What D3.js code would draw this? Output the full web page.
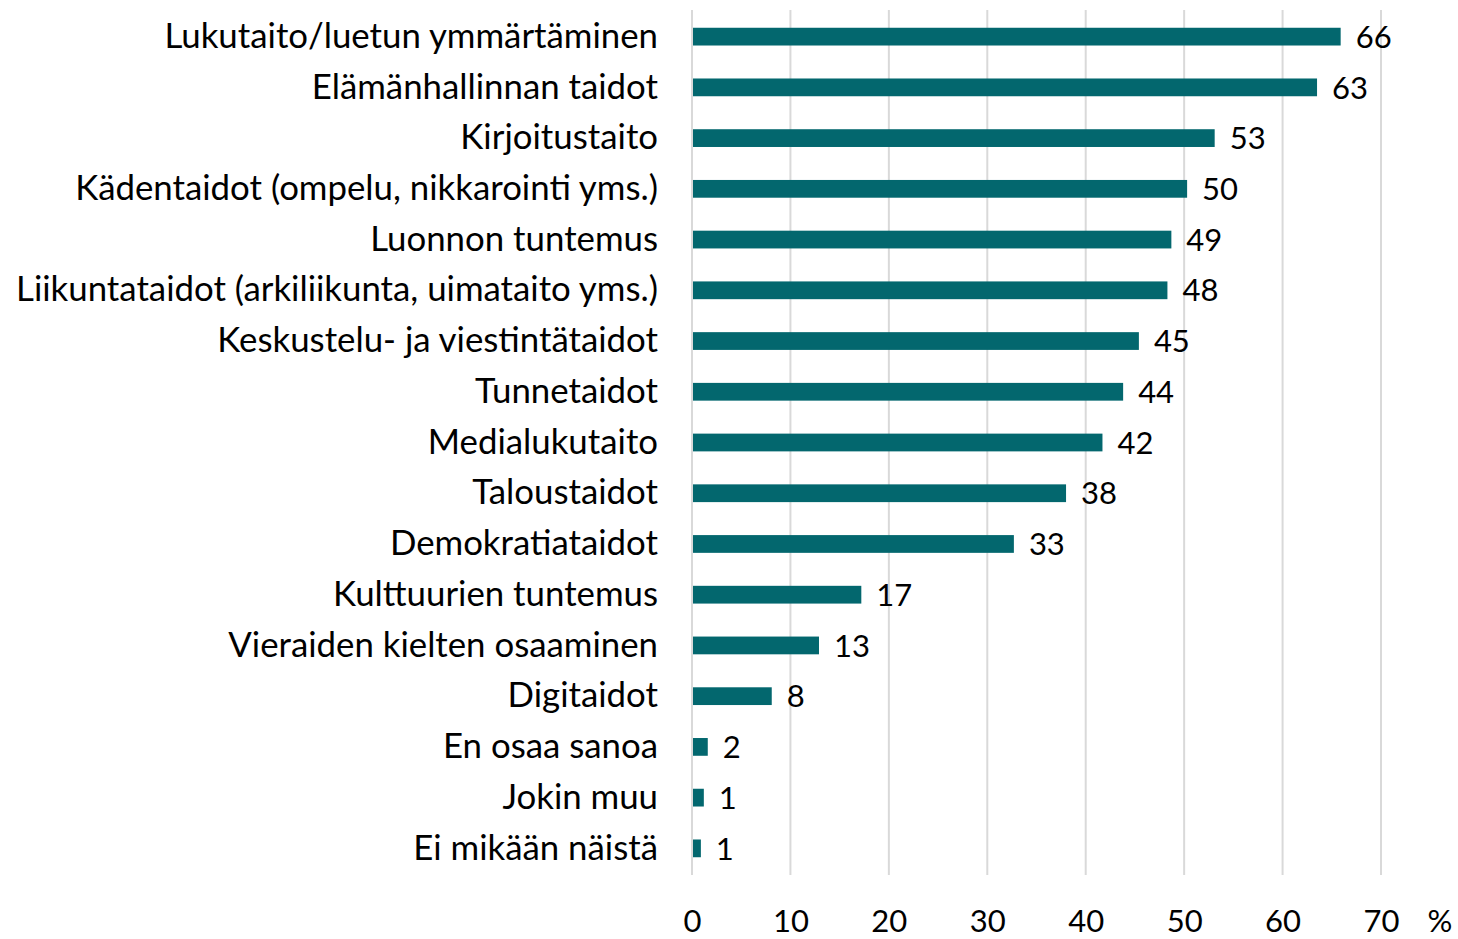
<!DOCTYPE html>
<html>
<head>
<meta charset="utf-8">
<script src="https://cdn.jsdelivr.net/npm/d3@7"></script>
<style>
  body { margin: 0; background: #fff; }
  text { font-family: "Lato", "Open Sans", sans-serif; fill: #000; }
</style>
</head>
<body>
<svg width="1458" height="939"></svg>
<script>
var categories = [
  "Lukutaito/luetun ymmärtäminen",
  "Elämänhallinnan taidot",
  "Kirjoitustaito",
  "Kädentaidot (ompelu, nikkarointi yms.)",
  "Luonnon tuntemus",
  "Liikuntataidot (arkiliikunta, uimataito yms.)",
  "Keskustelu- ja viestintätaidot",
  "Tunnetaidot",
  "Medialukutaito",
  "Taloustaidot",
  "Demokratiataidot",
  "Kulttuurien tuntemus",
  "Vieraiden kielten osaaminen",
  "Digitaidot",
  "En osaa sanoa",
  "Jokin muu",
  "Ei mikään näistä"
];
var values = [65.8, 63.4, 53.0, 50.2, 48.6, 48.2, 45.3, 43.7, 41.6, 37.9, 32.6, 17.1, 12.8, 8.0, 1.5, 1.1, 0.8];
var xTicks = [0, 10, 20, 30, 40, 50, 60, 70];

var margins = {top: 10, left: 692, right: 77, bottom: 64};
var width = 1458 - margins.left - margins.right;
var height = 939 - margins.top - margins.bottom;

var svg = d3.select("svg");
var plot = svg.append("g")
  .attr("transform", "translate(" + margins.left + "," + margins.top + ")");

var xScale = d3.scaleLinear().domain([0, 70]).range([0, width]);
var yScale = d3.scaleBand().domain(categories).range([0, height]).paddingInner(0.65).paddingOuter(0.35);

// gridlines
plot.selectAll("line.grid")
  .data(xTicks)
  .enter()
  .append("line")
  .attr("x1", function(d) { return xScale(d); })
  .attr("x2", function(d) { return xScale(d); })
  .attr("y1", 0)
  .attr("y2", height)
  .attr("stroke", "#d9d9d9")
  .attr("stroke-width", 2);

// bars
plot.selectAll("rect")
  .data(values)
  .enter()
  .append("rect")
  .attr("x", xScale(0) + 1)
  .attr("y", function(d, i) { return yScale(categories[i]); })
  .attr("width", function(d) { return xScale(d) - xScale(0); })
  .attr("height", yScale.bandwidth())
  .attr("fill", "#03676e");

// value labels
plot.selectAll("text.val")
  .data(values)
  .enter()
  .append("text")
  .attr("x", function(d) { return xScale(d) + 16; })
  .attr("y", function(d, i) { return yScale(categories[i]) + yScale.bandwidth() / 2; })
  .attr("dy", "0.36em")
  .style("font-size", "31px")
  .text(function(d) { return d3.format(".0f")(d); });

// category labels
var yAxis = d3.axisLeft(yScale).tickSize(0).tickPadding(34);
var yg = plot.append("g").call(yAxis);
yg.select(".domain").remove();
yg.selectAll("text").style("font-size", "34.8px").style("font-family", "Lato, sans-serif").attr("fill", "#000");

// x axis
var xAxis = d3.axisBottom(xScale).tickValues(xTicks).tickSize(0).tickPadding(35);
var xg = plot.append("g").attr("transform", "translate(0," + height + ")").call(xAxis);
xg.select(".domain").remove();
xg.selectAll("text").style("font-size", "31px").style("font-family", "Lato, sans-serif").attr("fill", "#000");

svg.append("text")
  .attr("x", 1440)
  .attr("y", margins.top + height + 35)
  .attr("dy", "0.71em")
  .attr("text-anchor", "middle")
  .style("font-size", "31px")
  .text("%");
</script>
</body>
</html>
